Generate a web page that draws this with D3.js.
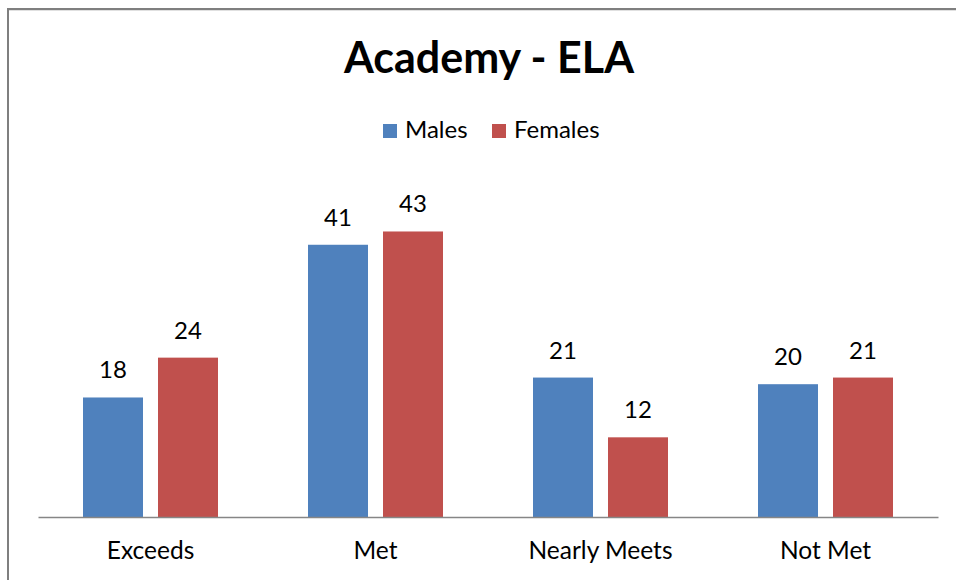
<!DOCTYPE html>
<html>
<head>
<meta charset="utf-8">
<script src="https://cdn.jsdelivr.net/npm/d3@7"></script>
<style>
  body { margin: 0; background: #fff; }
  svg { display: block; font-family: Lato, "Open Sans", sans-serif; }
</style>
</head>
<body>
<div id="chart"></div>
<script>
// data
const categories = ["Exceeds", "Met", "Nearly Meets", "Not Met"];
const seriesNames = ["Males", "Females"];
const males = [18, 41, 21, 20];
const females = [24, 43, 12, 21];
const colors = ["#4F81BD", "#C0504D"];

const W = 956, H = 580;
const plot = {left: 38, right: 938, top: 185, bottom: 517};

const svg = d3.select("#chart").append("svg")
    .attr("width", W)
    .attr("height", H);

// outer chart border (cropped at right and bottom in the reference)
svg.append("rect")
    .attr("x", 8).attr("y", 9)
    .attr("width", W + 10).attr("height", H + 10)
    .attr("fill", "none")
    .attr("stroke", "#7f7f7f")
    .attr("stroke-width", 2);
svg.append("line")
    .attr("x1", 9).attr("x2", W)
    .attr("y1", 10.5).attr("y2", 10.5)
    .attr("stroke", "#e0e0e0");

const rows = categories.map((c, i) => ({cat: c, vals: [males[i], females[i]]}));

const x0 = d3.scaleBand()
    .domain(categories)
    .range([plot.left, plot.right])
    .paddingInner(0.4)
    .paddingOuter(0.2);

const x1 = d3.scaleBand()
    .domain(seriesNames)
    .range([0, x0.bandwidth()])
    .paddingInner(0.2);

const y = d3.scaleLinear()
    .domain([0, 50])
    .range([plot.bottom, plot.top]);

// bars
const groups = svg.append("g").selectAll("g")
    .data(rows)
    .join("g")
    .attr("transform", d => `translate(${x0(d.cat)},0)`);

groups.selectAll("rect")
    .data(d => d.vals.map((v, j) => ({name: seriesNames[j], v: v, j: j})))
    .join("rect")
    .attr("x", d => x1(d.name))
    .attr("y", d => y(d.v))
    .attr("width", x1.bandwidth())
    .attr("height", d => y(0) - y(d.v))
    .attr("fill", d => colors[d.j]);

groups.selectAll("text")
    .data(d => d.vals.map((v, j) => ({name: seriesNames[j], v: v})))
    .join("text")
    .attr("x", d => x1(d.name) + x1.bandwidth() / 2)
    .attr("y", d => y(d.v) - 19)
    .attr("text-anchor", "middle")
    .style("font-size", "24px")
    .attr("fill", "#000")
    .text(d => d.v);

// x axis
const xAxis = svg.append("g")
    .attr("transform", `translate(0,${plot.bottom})`)
    .call(d3.axisBottom(x0).tickSize(0).tickPadding(0).tickSizeOuter(0));
xAxis.select(".domain")
    .attr("stroke", "#868686")
    .attr("stroke-width", 1.5);
xAxis.selectAll("text")
    .attr("dy", null)
    .attr("y", 42)
    .attr("fill", "#000")
    .style("font-size", "24.5px")
    .style("font-family", "Lato, sans-serif");

// title
svg.append("text")
    .attr("x", 489)
    .attr("y", 73)
    .attr("text-anchor", "middle")
    .style("font-size", "43px")
    .style("font-weight", "bold")
    .text("Academy - ELA");

// legend
const legendX = [383, 492];
const legend = svg.append("g").selectAll("g")
    .data(seriesNames)
    .join("g")
    .attr("transform", (d, i) => `translate(${legendX[i]},124)`);
legend.append("rect")
    .attr("width", 14).attr("height", 14)
    .attr("fill", (d, i) => colors[i]);
legend.append("text")
    .attr("x", 22)
    .attr("y", 14)
    .style("font-size", "24px")
    .text(d => d);
</script>
</body>
</html>
